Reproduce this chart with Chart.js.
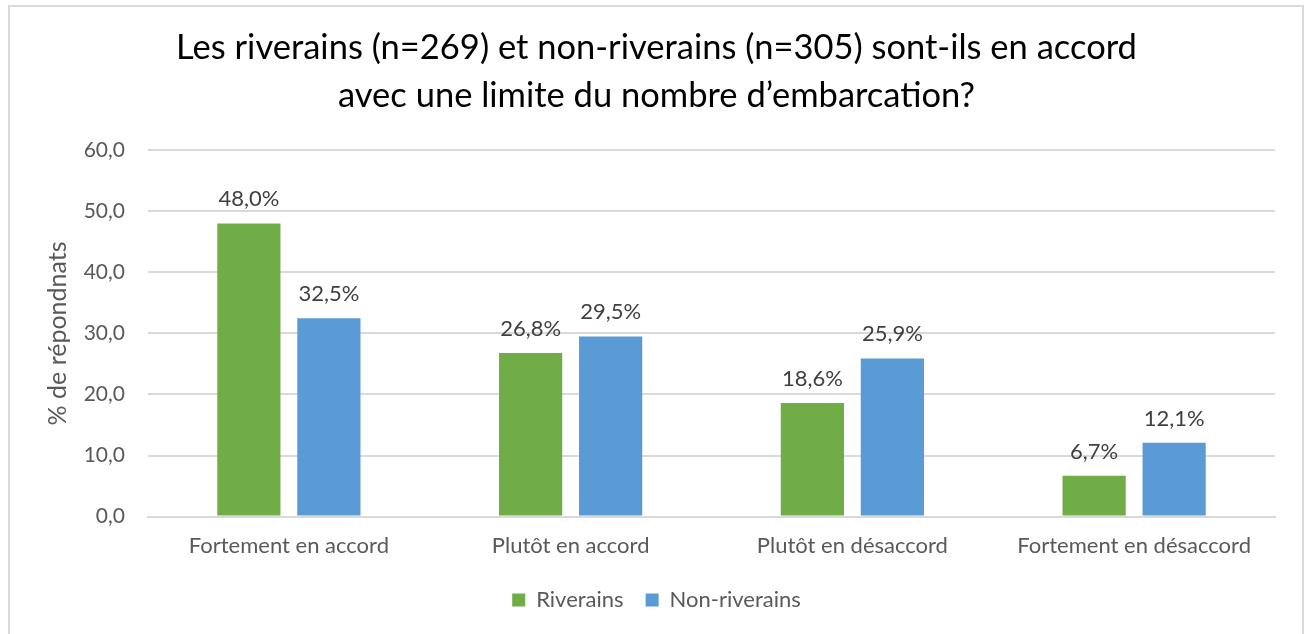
<!DOCTYPE html>
<html>
<head>
<meta charset="utf-8">
<script src="https://cdn.jsdelivr.net/npm/chart.js@4/dist/chart.umd.min.js"></script>
<style>
    html, body { margin: 0; padding: 0; background: #fff; overflow: hidden; }
    #frame {
        position: absolute;
        left: 8px;
        top: 5px;
        width: 1292px;
        height: 640px;
        border: 2px solid #d9d9d9;
        background: #fff;
    }
    canvas { display: block; }
</style>
</head>
<body>
<div id="frame">
    <canvas id="chart" width="1292" height="627"></canvas>
</div>
<script>
const categories = ['Fortement en accord', 'Plutôt en accord', 'Plutôt en désaccord', 'Fortement en désaccord'];
const riverains = [48.0, 26.8, 18.6, 6.7];
const nonRiverains = [32.5, 29.5, 25.9, 12.1];
const seriesNames = ['Riverains', 'Non-riverains'];
const titleLines = ['Les riverains (n=269) et non-riverains (n=305) sont-ils en accord', 'avec une limite du nombre d\u2019embarcation?'];
const yTitle = '% de répondnats';

const FONT = 'Lato, Calibri, sans-serif';

const fr = v => v.toFixed(1).replace('.', ',');

// draws "48,0%" above every bar
const valueLabels = {
    id: 'valueLabels',
    afterDatasetsDraw(chart) {
        const ctx = chart.ctx;
        ctx.save();
        ctx.font = '22px ' + FONT;
        ctx.fillStyle = '#404040';
        ctx.textAlign = 'center';
        ctx.textBaseline = 'alphabetic';
        chart.data.datasets.forEach((ds, i) => {
            chart.getDatasetMeta(i).data.forEach((bar, j) => {
                ctx.fillText(fr(ds.data[j]) + '%', bar.x, bar.y - 17);
            });
        });
        ctx.restore();
    }
};

new Chart(document.getElementById('chart'), {
    type: 'bar',
    data: {
        labels: categories,
        datasets: [{
            label: seriesNames[0],
            data: riverains,
            backgroundColor: '#70ad47'
        }, {
            label: seriesNames[1],
            data: nonRiverains,
            backgroundColor: '#5b9bd5'
        }]
    },
    options: {
        responsive: false,
        animation: false,
        categoryPercentage: 0.568,
        barPercentage: 0.79,
        layout: {
            padding: { left: 28, right: 27, top: 0, bottom: 13 }
        },
        plugins: {
            title: {
                display: true,
                text: titleLines,
                color: '#000',
                font: { family: FONT, size: 34.5, weight: 'normal', lineHeight: 1.38 },
                padding: { top: 17, bottom: 31 }
            },
            legend: {
                position: 'bottom',
                labels: {
                    color: '#595959',
                    font: { family: FONT, size: 22 },
                    boxWidth: 13,
                    boxHeight: 13,
                    padding: 22
                }
            },
            tooltip: { enabled: false }
        },
        scales: {
            x: {
                grid: { display: false },
                border: { color: '#d9d9d9', width: 2 },
                ticks: {
                    color: '#595959',
                    font: { family: FONT, size: 22 },
                    padding: 8
                }
            },
            y: {
                min: 0,
                max: 60,
                afterFit: scale => { scale.width = 110; },
                grid: { color: '#d9d9d9', lineWidth: 2, drawTicks: false },
                border: { display: false },
                ticks: {
                    stepSize: 10,
                    color: '#595959',
                    font: { family: FONT, size: 21 },
                    padding: 23,
                    callback: v => fr(v)
                },
                title: {
                    display: true,
                    text: yTitle,
                    color: '#595959',
                    font: { family: FONT, size: 25 },
                    padding: { top: 5, bottom: 10 }
                }
            }
        }
    },
    plugins: [valueLabels]
});
</script>
</body>
</html>
